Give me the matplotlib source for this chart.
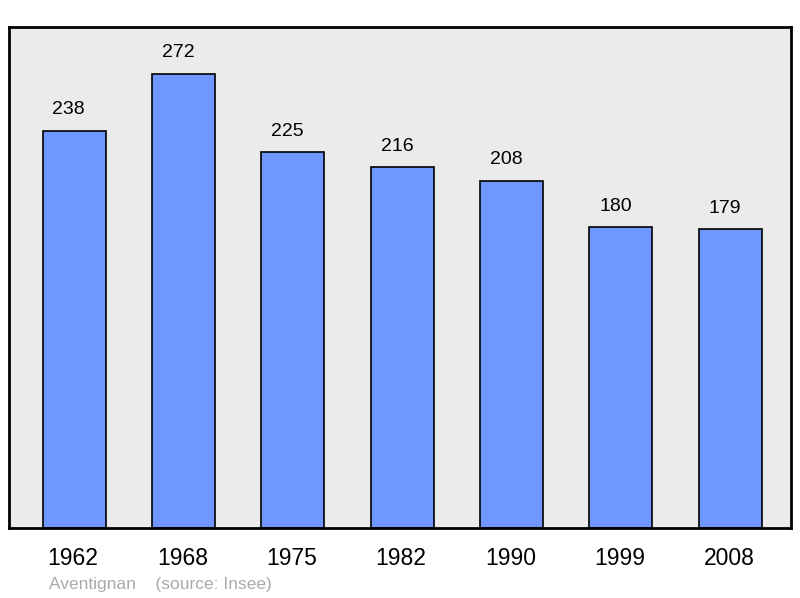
import matplotlib
matplotlib.use("Agg")
import matplotlib.pyplot as plt

years = ["1962", "1968", "1975", "1982", "1990", "1999", "2008"]
population = [238, 272, 225, 216, 208, 180, 179]

plt.rcParams['font.family'] = ['Liberation Sans', 'DejaVu Sans']

fig = plt.figure(figsize=(8, 5.98), dpi=100)
ax = fig.add_axes([9 / 800, 70 / 598, 782 / 800, 501 / 598])
ax.set_facecolor('#ebebeb')

xs = range(len(years))
ax.bar([x + 0.01 for x in xs], population, width=0.576, color='#7097ff',
       edgecolor='black', linewidth=1.2, zorder=2)
for x, v in zip(xs, population):
    ax.annotate(str(v), (x, v), xytext=(-3, 9), textcoords='offset points',
                ha='center', va='bottom', fontsize=14)

ax.set_xlim(-0.585, 6.567)
ax.set_ylim(0, 300)
ax.set_yticks([])
ax.set_xticks(list(xs))
ax.set_xticklabels(years, fontsize=16.5)
ax.tick_params(axis='x', length=0, pad=14)
for s in ax.spines.values():
    s.set_linewidth(2)

fig.text(49 / 800, 1 - 584 / 598, "Aventignan    (source: Insee)", color='#aaaaaa',
         fontsize=12.5, va='center', ha='left')

fig.savefig("out.png", dpi=100)
